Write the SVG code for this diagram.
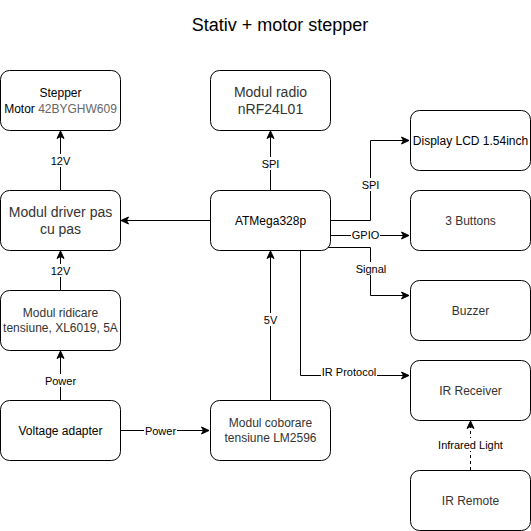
<svg xmlns="http://www.w3.org/2000/svg" width="531" height="531" viewBox="0 0 531 531">
<defs>
<marker id="arr" markerUnits="userSpaceOnUse" markerWidth="10" markerHeight="10" viewBox="0 0 10 10" refX="9" refY="5" orient="auto">
<path d="M1.5,1.5 L9,5 L1.5,8.5 L3.5,5 Z" fill="#000" stroke="#000" stroke-width="1"/>
</marker>
</defs>
<style>
.box{fill:#fff;stroke:#000;stroke-width:1}
.t{font-family:"Liberation Sans",Arial,sans-serif;font-size:12px;text-anchor:middle;fill:#000}
.g{fill:#333}
.big{font-size:14px}
.e{fill:none;stroke:#000;stroke-width:1;marker-end:url(#arr)}
.lbl{font-family:"Liberation Sans",Arial,sans-serif;font-size:11px;text-anchor:middle;fill:#000}
.bg{fill:#fff}
</style>
<rect width="531" height="531" fill="#fff"/>
<text x="280" y="31" font-family="Liberation Sans, Arial, sans-serif" font-size="18" text-anchor="middle" fill="#000">Stativ + motor stepper</text>

<g id="connectors">
<path class="e" d="M60.5,190 V131"/>
<path class="e" d="M60.5,290 V251"/>
<path class="e" d="M60.5,400 V351"/>
<path class="e" d="M120,430.5 H209"/>
<path class="e" d="M270.5,400 V251"/>
<path class="e" d="M210,220.5 H121"/>
<path class="e" d="M270.5,190 V131"/>
<path class="e" d="M330,220.5 H370.5 V140.5 H409"/>
<path class="e" d="M330,235.5 H409"/>
<path class="e" d="M328,247.5 H370.5 V295.5 H409"/>
<path class="e" d="M300.5,250 V375.5 H409"/>
<path class="e" d="M470.5,470 V421" stroke-dasharray="3,3"/>
<g>
<rect class="bg" x="50" y="154" width="21" height="13"/><text class="lbl" x="60.5" y="165">12V</text>
<rect class="bg" x="50" y="264" width="21" height="13"/><text class="lbl" x="60.5" y="275">12V</text>
<rect class="bg" x="44" y="374" width="33" height="13"/><text class="lbl" x="60.5" y="385">Power</text>
<rect class="bg" x="144" y="424" width="33" height="13"/><text class="lbl" x="160.5" y="435">Power</text>
<rect class="bg" x="262" y="313" width="17" height="13"/><text class="lbl" x="270.5" y="324">5V</text>
<rect class="bg" x="261" y="157" width="19" height="13"/><text class="lbl" x="270.5" y="168">SPI</text>
<rect class="bg" x="361" y="178" width="19" height="13"/><text class="lbl" x="370.5" y="189">SPI</text>
<rect class="bg" x="351" y="229" width="29" height="13"/><text class="lbl" x="365.5" y="239">GPIO</text>
<rect class="bg" x="352" y="262" width="34" height="13"/><text class="lbl" x="371" y="272.5">Signal</text>
<rect class="bg" x="321" y="366" width="56" height="13"/><text class="lbl" x="349" y="376">IR Protocol</text>
<rect class="bg" x="437" y="438" width="67" height="13"/><text class="lbl" x="470.5" y="449">Infrared Light</text>
</g>
</g>

<g id="stepper"><rect class="box" x="0.5" y="70.5" width="120" height="60" rx="9"/>
<text class="t" x="60.5" y="97">Stepper</text>
<text class="t" x="60.5" y="112.5">Motor <tspan fill="#666">42BYGHW609</tspan></text></g>

<g id="driver"><rect class="box" x="0.5" y="190.5" width="120" height="60" rx="9"/>
<text class="t big g" x="60.5" y="217">Modul driver pas</text>
<text class="t big g" x="60.5" y="233.5">cu pas</text></g>

<g id="ridicare"><rect class="box" x="0.5" y="290.5" width="120" height="60" rx="9"/>
<text class="t g" x="60.5" y="317">Modul ridicare</text>
<text class="t g" x="60.5" y="332">tensiune, XL6019, 5A</text></g>

<g id="adapter"><rect class="box" x="0.5" y="400.5" width="120" height="60" rx="9"/>
<text class="t" x="60.5" y="434.5">Voltage adapter</text></g>

<g id="radio"><rect class="box" x="210.5" y="70.5" width="120" height="60" rx="9"/>
<text class="t big g" x="270.5" y="97">Modul radio</text>
<text class="t big g" x="270.5" y="114">nRF24L01</text></g>

<g id="atmega"><rect class="box" x="210.5" y="190.5" width="120" height="60" rx="9"/>
<text class="t" x="270.5" y="224.5">ATMega328p</text></g>

<g id="coborare"><rect class="box" x="210.5" y="400.5" width="120" height="60" rx="9"/>
<text class="t g" x="270.5" y="427">Modul coborare</text>
<text class="t g" x="270.5" y="442">tensiune LM2596</text></g>

<g id="display"><rect class="box" x="410.5" y="110.5" width="120" height="60" rx="9"/>
<text class="t" x="470.5" y="144.5">Display LCD 1.54inch</text></g>

<g id="buttons"><rect class="box" x="410.5" y="190.5" width="120" height="60" rx="9"/>
<text class="t g" x="470.5" y="224.5">3 Buttons</text></g>

<g id="buzzer"><rect class="box" x="410.5" y="280.5" width="120" height="60" rx="9"/>
<text class="t g" x="470.5" y="314.5">Buzzer</text></g>

<g id="irreceiver"><rect class="box" x="410.5" y="360.5" width="120" height="60" rx="9"/>
<text class="t g" x="470.5" y="394.5">IR Receiver</text></g>

<g id="irremote"><rect class="box" x="410.5" y="470.5" width="120" height="60" rx="9"/>
<text class="t g" x="470.5" y="504.5">IR Remote</text></g>
</svg>
